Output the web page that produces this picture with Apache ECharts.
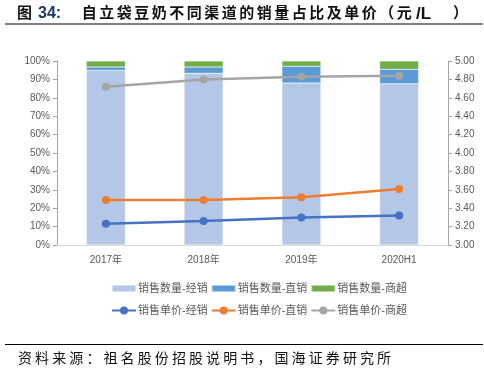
<!DOCTYPE html>
<html><head><meta charset="utf-8">
<script src="https://cdn.jsdelivr.net/npm/echarts@6/dist/echarts.min.js"></script>
<style>html,body{margin:0;padding:0;background:#fff}#c{width:484px;height:371px}</style>
</head><body><div id="c"></div>
<script>
const categories = ['2017年','2018年','2019年','2020H1'];
const qtyDistributor = [94.9, 93.3, 88.1, 87.6];
const qtyDirect = [1.8, 3.4, 9.1, 7.9];
const qtySupermarket = [3.3, 3.3, 2.8, 4.5];
const priceDistributor = [3.23, 3.26, 3.30, 3.32];
const priceDirect = [3.49, 3.49, 3.52, 3.61];
const priceSupermarket = [4.72, 4.80, 4.83, 4.84];
const names = ['销售数量-经销','销售数量-直销','销售数量-商超','销售单价-经销','销售单价-直销','销售单价-商超'];
const titleLabel = '图';
const titleNum = '34:';
const titleBody = '自立袋豆奶不同渠道的销量占比及单价（元';
const titleTail = '/L';
const titleClose = '）';
const sourceText = '资料来源：祖名股份招股说明书，国海证券研究所';

const FONT = '"Liberation Sans","Noto Sans CJK SC",sans-serif';
const TFONT = 'bold 15px "Noto Sans CJK SC",sans-serif';
const SFONT = '14px "Noto Sans CJK SC",sans-serif';

function spaced(str, x0, pitch, yMid, font, fill) {
  return Array.from(str).map((ch, i) => ({type:'text', x:x0 + i*pitch, y:yMid,
    style:{text:ch, font, fill, verticalAlign:'middle'}}));
}
const graphics = [
  {type:'text', x:17, y:12, style:{text:titleLabel, font:TFONT, fill:'#111', verticalAlign:'middle'}},
  {type:'text', x:38, y:14, style:{text:titleNum, font:'bold 16px "Liberation Sans",sans-serif', fill:'#17375E', verticalAlign:'middle'}},
  ...spaced(titleBody, 81.7, 17.5, 12, TFONT, '#111'),
  {type:'text', x:416, y:14.5, style:{text:titleTail, font:'bold 17px "Liberation Sans",sans-serif', fill:'#111', verticalAlign:'middle'}},
  {type:'text', x:453, y:12, style:{text:titleClose, font:TFONT, fill:'#111', verticalAlign:'middle'}},
  {type:'line', shape:{x1:5, y1:24, x2:483, y2:24}, style:{stroke:'#000', lineWidth:1}},
  {type:'line', shape:{x1:5, y1:344.5, x2:483, y2:344.5}, style:{stroke:'#000', lineWidth:1}},
  ...spaced(sourceText, 18, 17.1, 358, SFONT, '#111')
];

const chart = echarts.init(document.getElementById('c'), null, {renderer:'canvas'});
const barS = (name, data, color) => ({name, type:'bar', stack:'q', yAxisIndex:0, data, barWidth:39,
  itemStyle:{color, borderColor:'rgba(255,255,255,0.5)', borderWidth:0.5}});
const lineS = (name, data, color) => ({name, type:'line', yAxisIndex:1, data, symbol:'circle', symbolSize:8,
  lineStyle:{color, width:2.5}, itemStyle:{color}});
chart.setOption({
  animation:false,
  textStyle:{fontFamily:FONT},
  graphic:graphics,
  grid:{left:57, right:36, top:61, bottom:126},
  legend:[
    {data:names.slice(0,3), left:106, top:278, itemWidth:24, itemHeight:7, itemGap:3,
     textStyle:{fontSize:11, color:'#595959', width:70, fontFamily:FONT, padding:[0,0,0,-3]}, icon:'rect'},
    {data:names.slice(3), left:106, top:300, itemWidth:24, itemHeight:10, itemGap:3,
     textStyle:{fontSize:11, color:'#595959', width:70, fontFamily:FONT, padding:[0,0,0,-3]}}
  ],
  xAxis:{type:'category', data:categories, axisLine:{lineStyle:{color:'#d9d9d9'}}, axisTick:{show:false},
    axisLabel:{color:'#595959', fontSize:10, margin:10}},
  yAxis:[
    {type:'value', min:0, max:100, interval:10, splitLine:{show:false},
     axisLine:{show:true, lineStyle:{color:'#a6a6a6'}}, axisTick:{show:true, length:4, lineStyle:{color:'#a6a6a6'}},
     axisLabel:{formatter:'{value}%', color:'#595959', fontSize:10, margin:7}},
    {type:'value', min:3, max:5, interval:0.2, splitLine:{show:false},
     axisLine:{show:true, lineStyle:{color:'#a6a6a6'}}, axisTick:{show:true, length:4, lineStyle:{color:'#a6a6a6'}},
     axisLabel:{formatter:v=>v.toFixed(2), color:'#595959', fontSize:10, margin:7}}
  ],
  series:[
    barS(names[0], qtyDistributor, '#B4C7E7'),
    barS(names[1], qtyDirect, '#5B9BD5'),
    barS(names[2], qtySupermarket, '#70AD47'),
    lineS(names[3], priceDistributor, '#4472C4'),
    lineS(names[4], priceDirect, '#ED7D31'),
    lineS(names[5], priceSupermarket, '#A5A5A5')
  ]
});
</script></body></html>
